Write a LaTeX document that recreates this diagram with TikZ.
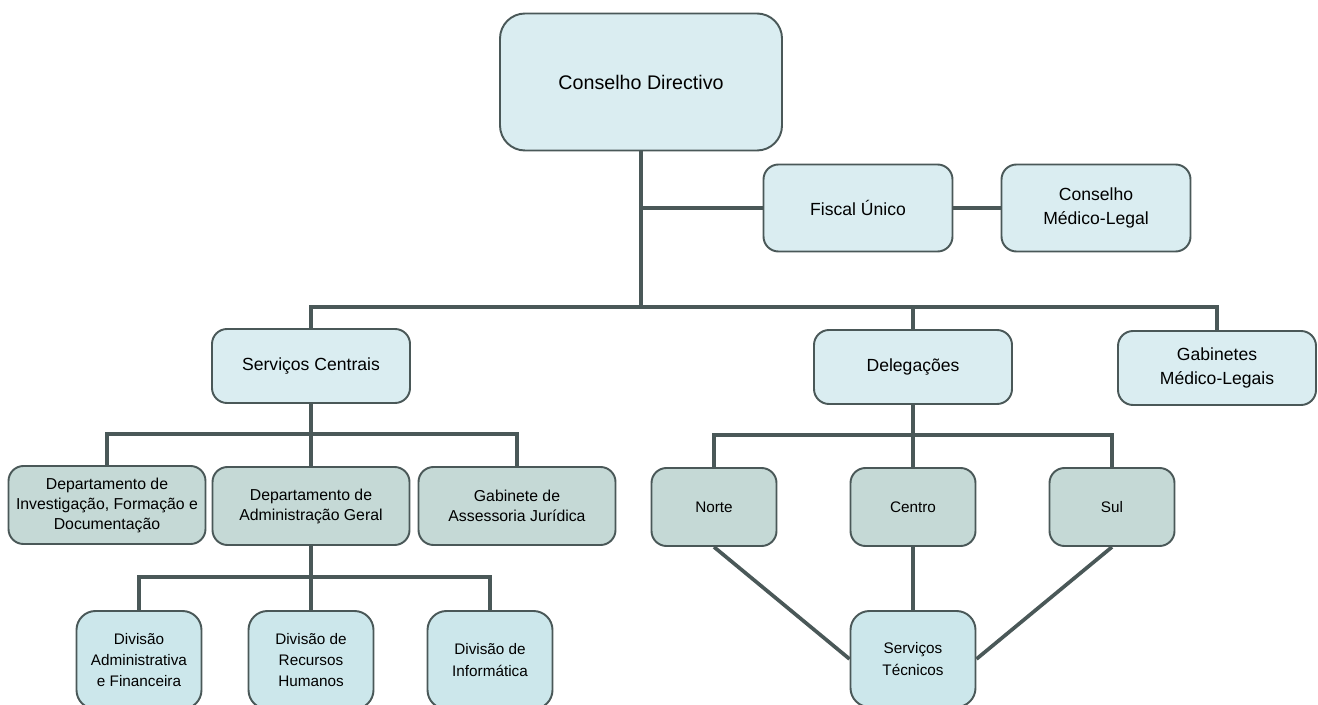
\documentclass[tikz,border=0pt]{standalone}
\usepackage{fontspec}
\setmainfont{Liberation Sans}
\usepackage{tikz}
\usetikzlibrary{positioning,calc}
\usepackage{xcolor}
\definecolor{edge}{RGB}{74,88,88}
\definecolor{boxa}{RGB}{218,237,241}
\definecolor{boxb}{RGB}{197,217,214}
\definecolor{boxc}{RGB}{204,231,235}

\begin{document}
\begin{tikzpicture}[
        top/.style={draw=edge, line width=1.1pt, rounded corners=0.5cm, fill=boxa, minimum width=5.64cm, minimum height=2.74cm, align=center, font=\fontsize{11.2}{14}\selectfont},
        unit/.style={draw=edge, line width=1.1pt, rounded corners=0.3cm, fill=boxa, inner sep=2pt, minimum width=3.96cm, minimum height=1.48cm, align=center, font=\fontsize{10}{13.5}\selectfont},
        dept/.style={unit, fill=boxb, minimum width=3.94cm, minimum height=1.56cm, font=\fontsize{9}{11.4}\selectfont},
        region/.style={dept, minimum width=2.5cm, font=\fontsize{8.7}{11.4}\selectfont},
        div/.style={unit, fill=boxc, minimum width=2.5cm, minimum height=1.96cm, rounded corners=0.38cm, font=\fontsize{8.7}{12}\selectfont},
        link/.style={draw=edge, line width=2.1pt}
    ]
    \useasboundingbox (0,0) rectangle (26.36,14.08);

    \node[top] (cd) at (12.82,12.44) {Conselho Directivo};
    \node[unit, minimum width=3.78cm, minimum height=1.74cm] (fis) at (17.16,9.92) {Fiscal Único};
    \node[unit, minimum width=3.78cm, minimum height=1.74cm] (cml) at (21.92,9.92) {Conselho\\ Médico-Legal};

    \node[unit] (sc) at (6.22,6.76) {Serviços Centrais};
    \node[unit] (del) at (18.26,6.74) {Delegações};
    \node[unit] (gml) at (24.34,6.72) {Gabinetes\\ Médico-Legais};

    \node[dept] (difd) at (2.14,3.98) {Departamento de\\ Investigação, Formação e\\ Documentação};
    \node[dept] (dag) at (6.22,3.96) {Departamento de\\ Administração Geral};
    \node[dept] (gaj) at (10.34,3.96) {Gabinete de\\ Assessoria Jurídica};

    \node[region] (norte) at (14.28,3.94) {Norte};
    \node[region] (centro) at (18.26,3.94) {Centro};
    \node[region] (sul) at (22.24,3.94) {Sul};

    \node[div] (daf) at (2.78,0.88) {Divisão\\ Administrativa\\ e Financeira};
    \node[div] (drh) at (6.22,0.88) {Divisão de\\ Recursos\\ Humanos};
    \node[div] (dinf) at (9.8,0.88) {Divisão de\\ Informática};
    \node[div, minimum height=1.92cm] (st) at (18.26,0.9) {Serviços\\ Técnicos};

    % bus lines
    \coordinate (bus) at (0,7.94);
    \coordinate (busdel) at (0,5.38);
    \coordinate (bussc) at (0,5.40);
    \coordinate (busdag) at (0,2.54);

    \draw[link] (cd.south) -- (cd.south |- bus);
    \draw[link] (cd.south |- fis) -- (fis.west);
    \draw[link] (fis) -- (cml);
    \draw[link] (sc.north) |- (gml.north |- bus) -- (gml.north);
    \draw[link] (del.north) -- (del.north |- bus);

    \draw[link] (sc.south) -- (sc.south |- bussc);
    \draw[link] (difd.north) |- (gaj.north |- bussc) -- (gaj.north);
    \draw[link] (dag.north) -- (dag.north |- bussc);

    \draw[link] (dag.south) -- (dag.south |- busdag);
    \draw[link] (daf.north) |- (dinf.north |- busdag) -- (dinf.north);
    \draw[link] (drh.north) -- (drh.north |- busdag);

    \draw[link] (del.south) -- (del.south |- busdel);
    \draw[link] (norte.north) |- (sul.north |- busdel) -- (sul.north);
    \draw[link] (centro.north) -- (centro.north |- busdel);
    \draw[link] (norte.south) -- (st.west);
    \draw[link] (centro) -- (st);
    \draw[link] (sul.south) -- (st.east);
\end{tikzpicture}
\end{document}
